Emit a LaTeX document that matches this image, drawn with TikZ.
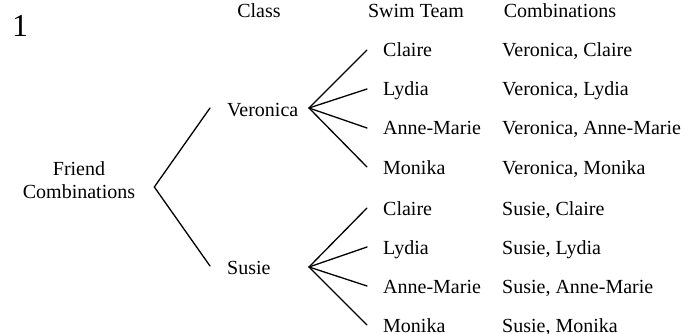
\documentclass[tikz,border=0pt]{standalone}
\usepackage{fontspec}
\setmainfont{Liberation Serif}
\usetikzlibrary{calc}
\begin{document}
\begin{tikzpicture}[x=1pt,y=-1pt,
  lbl/.style={inner sep=0pt, text height=14pt, text depth=0pt,
              font=\fontsize{20}{23}\selectfont},
  head/.style={lbl, anchor=base},
  leaf/.style={lbl, anchor=base west},
  branch/.style={line width=1.3pt, black, line cap=round}]
\useasboundingbox (0,0) rectangle (696,334);

% page number
\node[inner sep=0pt, anchor=base west, font=\fontsize{32}{36}\selectfont] (num) at (12,37) {1};

% column headings
\node[head] (hclass) at (259,18) {Class};
\node[head] (hswim)  at (416,18) {Swim Team};
\node[head] (hcomb)  at (560,18) {Combinations};

% root
\node[inner sep=0pt, align=center, font=\fontsize{20}{23}\selectfont] (fc) at (79,180.6)
  {Friend\\Combinations};

% class level
\node[leaf] (ver) at (227,117) {Veronica};
\node[leaf] (sus) at (227,274) {Susie};

% branch points
\coordinate (root) at ($(fc.east)+(19,6.4)$);
\coordinate (verL) at ($(ver.west)+(-17,-2)$);
\coordinate (verR) at ($(ver.west)+(82,-2)$);
\coordinate (susL) at ($(sus.west)+(-17,-1)$);
\coordinate (susR) at ($(sus.west)+(82,0)$);

\draw[branch] (verL) -- (root) -- (susL);

% swim team level and combinations
\foreach \name [count=\i] in {Claire,Lydia,Anne-Marie,Monika}{
  \pgfmathsetmacro{\yv}{57+39*(\i-1)}
  \pgfmathsetmacro{\ys}{215+39*(\i-1)}
  \node[leaf] (v\i) at (383,\yv) {\name};
  \node[leaf] (vc\i) at (502,\yv) {Veronica, \name};
  \node[leaf] (s\i) at (383,\ys) {\name};
  \node[leaf] (sc\i) at (502,\ys) {Susie, \name};
  \draw[branch] (verR) -- ($(v\i.west)+(-16,0)$);
  \draw[branch] (susR) -- ($(s\i.west)+(-16,0)$);
}
\end{tikzpicture}
\end{document}
